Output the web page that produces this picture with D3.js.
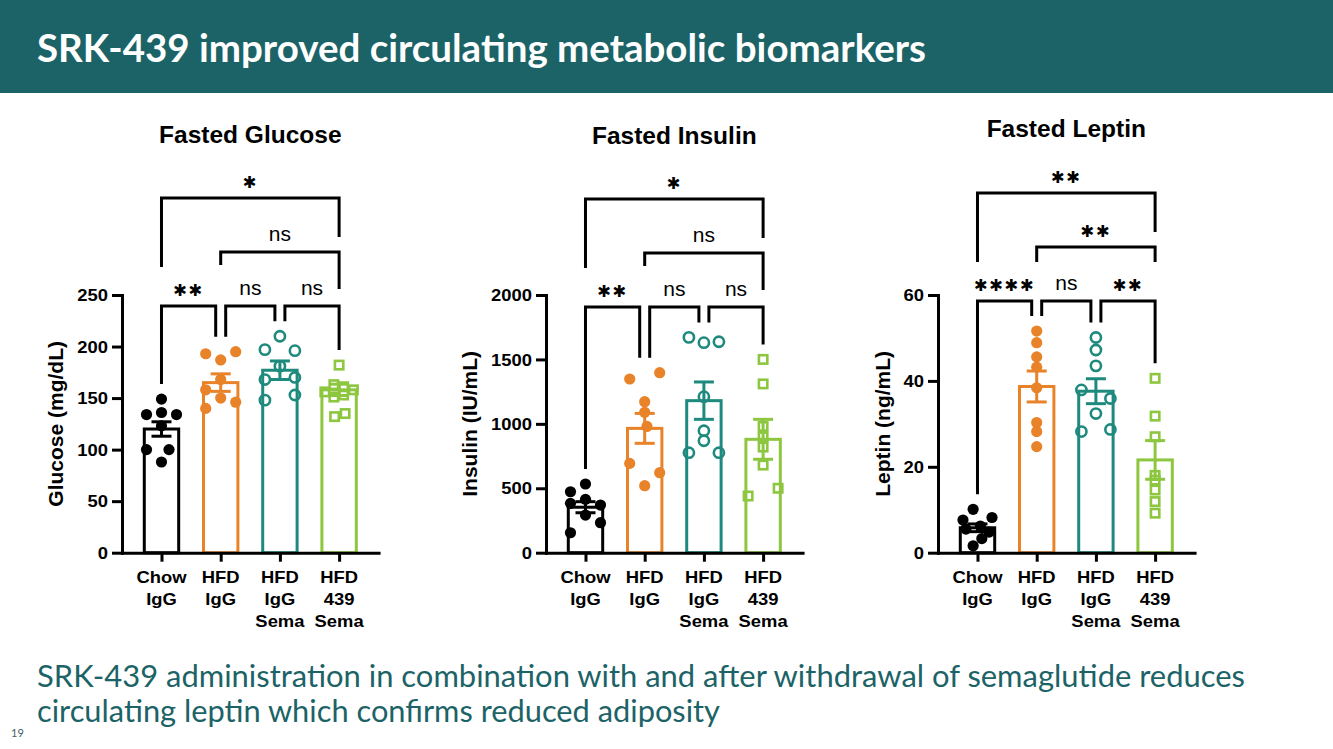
<!DOCTYPE html>
<html><head><meta charset="utf-8">
<script src="https://cdn.jsdelivr.net/npm/d3@7"></script>
<style>body{margin:0;background:#fff}svg{display:block}</style>
</head><body><svg id="c" width="1333" height="749"></svg>
<script>
// ---------- data ----------
const headerTitle = "SRK-439 improved circulating metabolic biomarkers";
const footerLines = ["SRK-439 administration in combination with and after withdrawal of semaglutide reduces",
                     "circulating leptin which confirms reduced adiposity"];
const pageNumber = "19";
const categories = [["Chow","IgG"],["HFD","IgG"],["HFD","IgG","Sema"],["HFD","439","Sema"]];
const groupColors = ["#000000","#E8832A","#1E8A7E","#8DC63F"];
const markerKinds = ["filled","filled","circle","square"];

const glucoseTicks = [0,50,100,150,200,250];
const glucoseMeans = [120,165,177,158];
const glucoseSem = [7,8.5,9,5.5];
const glucoseValues = [
  [149,136,134,134,123,100,100,88],
  [193,187,195,168,158,150,146,140],
  [210,197,196,181,168,170,148,153],
  [182,163,161,158,156,151,153,132,135]];
const glucoseOffsets = [
  [0,0,-1,1,0,-1,0.5,0],
  [-1,0,1,0,-1,0,1,-1],
  [0,-1,1,0,-1,1,-1,1],
  [0,-0.35,0.3,0.95,-0.95,-0.35,0.3,-0.3,0.4]];
const glucoseBrackets = [
  {a:0,b:1,label:"**",row:0},{a:1,b:2,label:"ns",row:0},{a:2,b:3,label:"ns",row:0},
  {a:1,b:3,label:"ns",row:1,legs:[13,37]},{a:0,b:3,label:"*",row:2,legs:[69,39]}];

const insulinTicks = [0,500,1000,1500,2000];
const insulinMeans = [353,965,1180,880];
const insulinSem = [43,116,145,155];
const insulinValues = [
  [533,473,414,383,370,292,233,155],
  [1397,1348,1172,1090,980,693,621,520],
  [1671,1630,1637,1211,947,869,776,776],
  [1500,1310,980,900,820,680,500,440]];
const insulinOffsets = [
  [0,-1,0,-1,1,0,1,-1],
  [1,-1,0,0,0.15,-1,1,0],
  [-1,0,1,0,0,0,-1,1],
  [0,0,0,0,0,0,1,-1]];
const insulinBrackets = [
  {a:0,b:1,label:"**",row:0},{a:1,b:2,label:"ns",row:0},{a:2,b:3,label:"ns",row:0},
  {a:1,b:3,label:"ns",row:1,legs:[13,37]},{a:0,b:3,label:"*",row:2,legs:[69,39]}];

const leptinTicks = [0,20,40,60];
const leptinMeans = [5.8,38.7,37.6,21.6];
const leptinSem = [0.9,3.6,2.9,4.5];
const leptinValues = [
  [10.1,8.2,7.6,6.2,5.5,4.8,3.3,1.6],
  [51.6,48.9,45.6,43.2,38.4,30.3,28.2,24.7],
  [50.1,47.2,43.5,37.9,35.9,32.4,28.2,28.7],
  [40.6,31.8,27,18,16.9,14.6,11.9,9.2]];
const leptinOffsets = [
  [-0.3,1,-1,0.2,-0.8,0.8,0.3,-0.3],
  [0,0,0,0,0,0,0,0],
  [0,0,0,-1,1,0,-1,1],
  [0,0,0,0,0,0,0,0]];
const leptinBrackets = [
  {a:0,b:1,label:"****",row:0},{a:1,b:2,label:"ns",row:0},{a:2,b:3,label:"**",row:0},
  {a:1,b:3,label:"**",row:1,legs:[15,15]},{a:0,b:3,label:"**",row:2,legs:[69,39]}];

// ---------- layout ----------
const panels = [
  {title:"Fasted Glucose", yLabel:"Glucose (mg/dL)", ticks:glucoseTicks, means:glucoseMeans, sem:glucoseSem,
   values:glucoseValues, offsets:glucoseOffsets, brackets:glucoseBrackets, axisX:122, titleY:143, row0:306, jit:15},
  {title:"Fasted Insulin", yLabel:"Insulin (IU/mL)", ticks:insulinTicks, means:insulinMeans, sem:insulinSem,
   values:insulinValues, offsets:insulinOffsets, brackets:insulinBrackets, axisX:546, titleY:144, row0:307, jit:15},
  {title:"Fasted Leptin", yLabel:"Leptin (ng/mL)", ticks:leptinTicks, means:leptinMeans, sem:leptinSem,
   values:leptinValues, offsets:leptinOffsets, brackets:leptinBrackets, axisX:938, titleY:137, row0:301, jit:14.5}
];

const ARIAL = "'Liberation Sans', Arial, sans-serif";
const LATO = "Lato, 'Open Sans', sans-serif";
const TEAL = "#1C6367";
const svg = d3.select("#c");
svg.append("rect").attr("width",1333).attr("height",749).attr("fill","#fff");
svg.append("rect").attr("width",1333).attr("height",93).attr("fill",TEAL);
svg.append("text").attr("x",37).attr("y",62).attr("fill","#fff")
  .attr("font-family",LATO).attr("font-weight",700).attr("font-size",39)
  .attr("textLength",889).attr("lengthAdjust","spacingAndGlyphs").text(headerTitle);

const footLen = [1208, 683];
footerLines.forEach((t,i)=>{
  svg.append("text").attr("x",37).attr("y",687+i*35).attr("fill",TEAL)
    .attr("font-family",LATO).attr("font-size",30)
    .attr("textLength",footLen[i]).attr("lengthAdjust","spacingAndGlyphs").text(t);
});
svg.append("text").attr("x",11).attr("y",737).attr("fill","#3b6164")
  .attr("font-family",LATO).attr("font-size",11).text(pageNumber);

function drawPanel(p){
  const g = svg.append("g");
  const yMax = d3.max(p.ticks);
  const y = d3.scaleLinear().domain([0,yMax]).range([552.7,295]);
  const x = d3.scalePoint().domain(d3.range(categories.length)).range([p.axisX, p.axisX+256.6]).padding(0.667);
  const cx = (x(0)+x(3))/2;

  // bars
  g.selectAll("rect.bar").data(p.means).join("rect").attr("class","bar")
    .attr("x",(d,i)=>x(i)-17.2).attr("width",34.4)
    .attr("y",d=>y(d)).attr("height",d=>y(0)-y(d))
    .attr("fill","#fff").attr("stroke",(d,i)=>groupColors[i]).attr("stroke-width",3);

  // points
  p.values.forEach((vals,i)=>{
    const pts = vals.map((v,k)=>({v, o:p.offsets[i][k]}));
    const col = groupColors[i];
    if(markerKinds[i]==="square"){
      g.selectAll(null).data(pts).join("rect")
        .attr("x",d=>x(i)+d.o*p.jit-4.2).attr("y",d=>y(d.v)-4.2).attr("width",8.4).attr("height",8.4)
        .attr("fill","none").attr("stroke",col).attr("stroke-width",2.6);
    } else {
      g.selectAll(null).data(pts).join("circle")
        .attr("cx",d=>x(i)+d.o*p.jit).attr("cy",d=>y(d.v))
        .attr("r",markerKinds[i]==="filled"?5.6:5.1)
        .attr("fill",markerKinds[i]==="filled"?col:"none")
        .attr("stroke",markerKinds[i]==="filled"?"none":col).attr("stroke-width",2.6);
    }
  });

  // error bars
  p.means.forEach((m,i)=>{
    const col = groupColors[i], s = p.sem[i];
    const eg = g.append("g").attr("stroke",col).attr("stroke-width",3).attr("fill","none");
    eg.append("line").attr("x1",x(i)).attr("x2",x(i)).attr("y1",y(m-s)).attr("y2",y(m+s));
    [m-s,m+s].forEach(v=>eg.append("line").attr("x1",x(i)-10).attr("x2",x(i)+10).attr("y1",y(v)).attr("y2",y(v)));
  });

  // axes
  const ya = g.append("g").attr("transform",`translate(${p.axisX},0)`)
    .call(d3.axisLeft(y).tickValues(p.ticks).tickFormat(d3.format("d")).tickSize(10).tickSizeOuter(0));
  ya.select(".domain").attr("stroke-width",3).attr("stroke-linecap","square");
  ya.selectAll(".tick line").attr("stroke-width",3);
  ya.selectAll(".tick text").attr("font-family",ARIAL).attr("font-weight",700).attr("font-size",16)
    .attr("fill","#000").attr("x",-14/1.15).attr("dy","0.35em").attr("transform","scale(1.15,1)");

  const xa = g.append("g").attr("transform","translate(0,552.7)")
    .call(d3.axisBottom(x).tickSize(9).tickSizeOuter(0).tickFormat(()=>""));
  xa.select(".domain").attr("stroke-width",3).attr("stroke-linecap","square");
  xa.selectAll(".tick line").attr("stroke-width",3);

  // category labels
  categories.forEach((lines,i)=>{
    const t = g.append("text").attr("text-anchor","middle").attr("font-family",ARIAL)
      .attr("font-weight",700).attr("font-size",16).attr("fill","#000")
      .attr("transform",`translate(${x(i)},0) scale(1.15,1)`);
    lines.forEach((ln,k)=>t.append("tspan").attr("x",0).attr("y",583+k*22).text(ln));
  });

  // y label
  const minX = d3.min(ya.selectAll(".tick text").nodes(), n=>n.getBoundingClientRect().left);
  g.append("text").attr("transform",`translate(${minX-14},${(y(0)+y(yMax))/2}) rotate(-90)`)
    .attr("text-anchor","middle").attr("font-family",ARIAL).attr("font-weight",700)
    .attr("font-size",21).attr("fill","#000").text(p.yLabel);

  // title
  g.append("text").attr("x",cx).attr("y",p.titleY).attr("text-anchor","middle")
    .attr("font-family",ARIAL).attr("font-weight",700).attr("font-size",24.5).attr("fill","#000").text(p.title);

  // brackets
  const row0 = p.brackets.filter(b=>b.row===0);
  p.brackets.forEach(b=>{
    const ly = p.row0 - b.row*54;
    let xa_, xb_, ea, eb;
    if(b.row===0){
      xa_ = x(b.a) + (row0.some(o=>o!==b && o.b===b.a) ? 5 : 0);
      xb_ = x(b.b) - (row0.some(o=>o!==b && o.a===b.b) ? 5 : 0);
      ea = y(d3.max(p.values[b.a])) - 15;
      eb = y(d3.max(p.values[b.b])) - 15;
    } else {
      xa_ = x(b.a); xb_ = x(b.b); ea = ly + b.legs[0]; eb = ly + b.legs[1];
    }
    g.append("path").attr("d",`M${xa_},${ea}V${ly}H${xb_}V${eb}`)
      .attr("fill","none").attr("stroke","#000").attr("stroke-width",3).attr("stroke-linejoin","miter");
    const mx = (xa_+xb_)/2;
    if(b.label==="ns"){
      g.append("text").attr("x",mx).attr("y",ly-11).attr("text-anchor","middle")
        .attr("font-family",ARIAL).attr("font-size",21).attr("fill","#000").text("ns");
    } else {
      g.append("text").attr("x",mx).attr("y",ly-16).attr("dy","0.36em").attr("text-anchor","middle")
        .attr("font-family","'DejaVu Sans', sans-serif").attr("font-size",16.5).attr("letter-spacing",1.5)
        .attr("fill","#000").text("\u2731".repeat(b.label.length));
    }
  });
}
panels.forEach(drawPanel);
</script></body></html>
